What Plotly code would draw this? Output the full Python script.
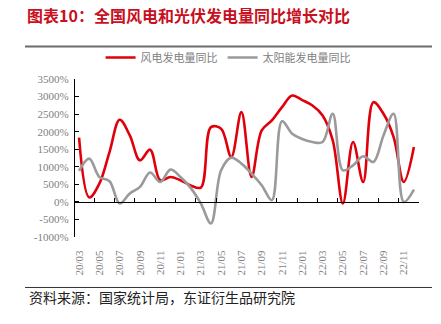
import plotly.graph_objects as go

months = ["20/03", "20/04", "20/05", "20/06", "20/07", "20/08", "20/09", "20/10", "20/11", "20/12",
          "21/01", "21/02", "21/03", "21/04", "21/05", "21/06", "21/07", "21/08", "21/09", "21/10",
          "21/11", "21/12", "22/01", "22/02", "22/03", "22/04", "22/05", "22/06", "22/07", "22/08",
          "22/09", "22/10", "22/11", "22/12"]

wind_yoy = [1830, 125, 520, 1420, 2340, 1894, 1184, 1487, 616, 710, 616, 470,
            408, 2130, 2084, 1278, 2556, 710, 2036, 2320, 2698, 3030, 2900,
            2746, 2462, 1752, -45, 1704, 568, 2840, 2510, 1846, 568, 1562]

solar_yoy = [880, 1232, 710, 588, -45, 238, 426, 835, 568, 920, 710, 400,
             -45, -614, 900, 1260, 1090, 806, 474, 48, 2300, 1942, 1790,
             1704, 1704, 2510, 900, 1042, 1298, 1136, 1894, 2510, 0, 352]

y_ticks = [-1000, -500, 0, 500, 1000, 1500, 2000, 2500, 3000, 3500]
y_ticktext = [f"{v}%" for v in y_ticks]

idx = list(range(len(months)))
label_idx = idx[::2]
label_text = months[::2]

CJK = "Noto Sans CJK SC"
SERIF = "Liberation Serif"

fig = go.Figure()
fig.add_trace(go.Scatter(x=idx, y=wind_yoy, name="风电发电量同比", mode="lines",
                         line=dict(color="#e0000b", width=2.6, shape="spline", smoothing=1.0)))
fig.add_trace(go.Scatter(x=idx, y=solar_yoy, name="太阳能发电量同比", mode="lines",
                         line=dict(color="#9a9a9a", width=2.6, shape="spline", smoothing=1.0)))
# carrier for the axis drawn at y = 0
fig.add_trace(go.Scatter(x=[None], y=[None], xaxis="x2", showlegend=False, hoverinfo="skip"))

xr = [-0.4, len(months) - 0.5]
zero_pos = (0 - y_ticks[0]) / (y_ticks[-1] - y_ticks[0])

fig.update_layout(
    width=441, height=324,
    margin=dict(l=75, r=22, t=78.5, b=87),
    paper_bgcolor="white", plot_bgcolor="white",
    font=dict(family=CJK, color="#808080"),
    showlegend=True,
    legend=dict(orientation="h", x=0.445, xanchor="center", y=1.136, yanchor="middle",
                font=dict(family=CJK, size=11, color="#808080"),
                itemwidth=30, tracegroupgap=0, bgcolor="rgba(0,0,0,0)"),
    title=dict(text="<b>图表10：全国风电和光伏发电量同比增长对比</b>",
               x=27 / 441, xanchor="left", xref="container",
               y=1 - 16 / 324, yanchor="middle", yref="container",
               font=dict(family=CJK, size=16, color="#c8101e")),
    xaxis=dict(range=xr, tickmode="array", tickvals=label_idx, ticktext=label_text,
               tickangle=-90, ticks="outside", ticklen=8, tickcolor="rgba(0,0,0,0)",
               showline=False, showgrid=False, zeroline=False,
               tickfont=dict(family=SERIF, size=11, color="#808080")),
    xaxis2=dict(range=xr, overlaying="x", anchor="free", position=zero_pos,
                tickmode="array", tickvals=[i + 1.5 for i in idx[::2]],
                ticks="inside", ticklen=4, tickcolor="black", tickwidth=1,
                showticklabels=False, showline=True, linecolor="black", linewidth=1.2,
                showgrid=False, zeroline=False),
    yaxis=dict(range=[y_ticks[0], y_ticks[-1]], tickmode="array", tickvals=y_ticks,
               ticktext=y_ticktext, ticks="inside", ticklen=4, tickcolor="black",
               showline=True, linecolor="black", linewidth=1.2, showgrid=False,
               zeroline=False, ticklabelstandoff=3,
               tickfont=dict(family=SERIF, size=11, color="#808080")),
    shapes=[
        dict(type="line", xref="paper", yref="paper", x0=-50 / 344, x1=357 / 344,
             y0=(236.9 - 46) / 158.4, y1=(236.9 - 46) / 158.4,
             line=dict(color="#6b6b6b", width=2)),
        dict(type="line", xref="paper", yref="paper", x0=-50 / 344, x1=357 / 344,
             y0=(236.9 - 287.5) / 158.4, y1=(236.9 - 287.5) / 158.4,
             line=dict(color="#333333", width=1)),
    ],
    annotations=[
        dict(text="资料来源：国家统计局，东证衍生品研究院", xref="paper", yref="paper",
             x=-48 / 344, xanchor="left", y=(236.9 - 297) / 158.4, yanchor="middle",
             showarrow=False, font=dict(family=CJK, size=14, color="#222222")),
    ],
)

fig.write_html("out.html")
